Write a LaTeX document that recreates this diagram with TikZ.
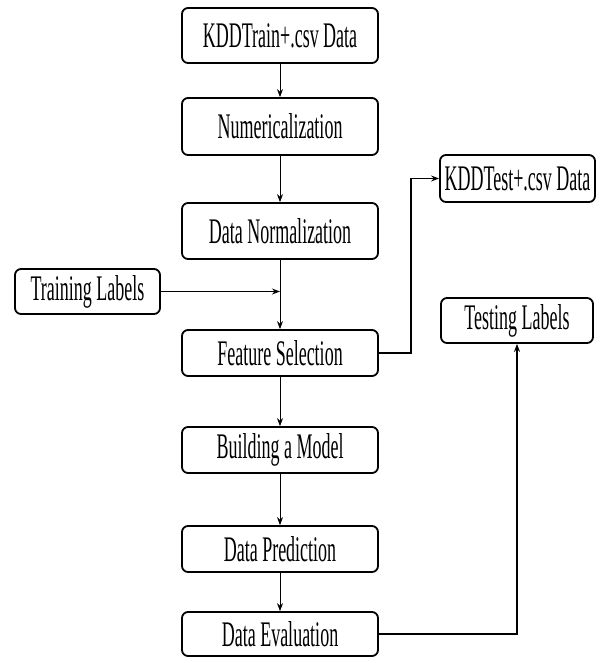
\documentclass[tikz,border=0pt]{standalone}
\usepackage{fontspec}
\setmainfont[FakeStretch=0.5]{Liberation Serif}
\usepackage{tikz}
\usetikzlibrary{shapes,arrows,positioning,calc,arrows.meta}

\tikzset{
    stage/.style={draw, line width=1.8pt, rounded corners=6pt, inner sep=0pt,
        minimum width=196pt, font=\fontsize{36}{40}\selectfont},
    flow/.style={line width=0.8pt, -{Stealth[length=8pt,width=6pt]}},
    side/.style={line width=1.8pt, -{Stealth[length=8pt,width=6pt]}}
}

\begin{document}
\begin{tikzpicture}[x=1pt, y=-1pt]
    \useasboundingbox (0,0) rectangle (602,657);

    % Main column
    \node[stage, minimum height=55pt] (train) at (280,35.5) {KDDTrain+.csv Data};
    \node[stage, minimum height=57pt] (numer) at (280,126.5) {Numericalization};
    \node[stage, minimum height=56pt] (norm) at (280,231) {Data Normalization};
    \node[stage, minimum height=46pt] (feat) at (280,353) {Feature Selection};
    \node[stage, minimum height=46pt] (model) at (280,450) {Building a Model};
    \node[stage, minimum height=46pt] (pred) at (280,549) {Data Prediction};
    \node[stage, minimum height=44pt] (eval) at (280,634) {Data Evaluation};

    % Side boxes
    \node[stage, minimum width=145pt, minimum height=45pt] (trainlab) at (87.5,291.5) {Training Labels};
    \node[stage, minimum width=155pt, minimum height=47pt] (testdata) at (517.5,178.5) {KDDTest+.csv Data};
    \node[stage, minimum width=152pt, minimum height=45pt] (testlab) at (517,320.5) {Testing Labels};

    % Arrows
    \draw[flow] (train) -- (numer);
    \draw[flow] (numer) -- (norm);
    \draw[flow] (norm) -- (feat);
    \draw[flow] (feat) -- (model);
    \draw[flow] (model) -- (pred);
    \draw[flow] (pred) -- (eval);

    \coordinate (join) at (norm.south |- trainlab.east);
    \draw[side] (trainlab.east) -- (join);
    \draw[side] (feat.east) -- ++(32,0) |- (testdata.west);
    \draw[side] (eval.east) -| (testlab.south);
\end{tikzpicture}
\end{document}
